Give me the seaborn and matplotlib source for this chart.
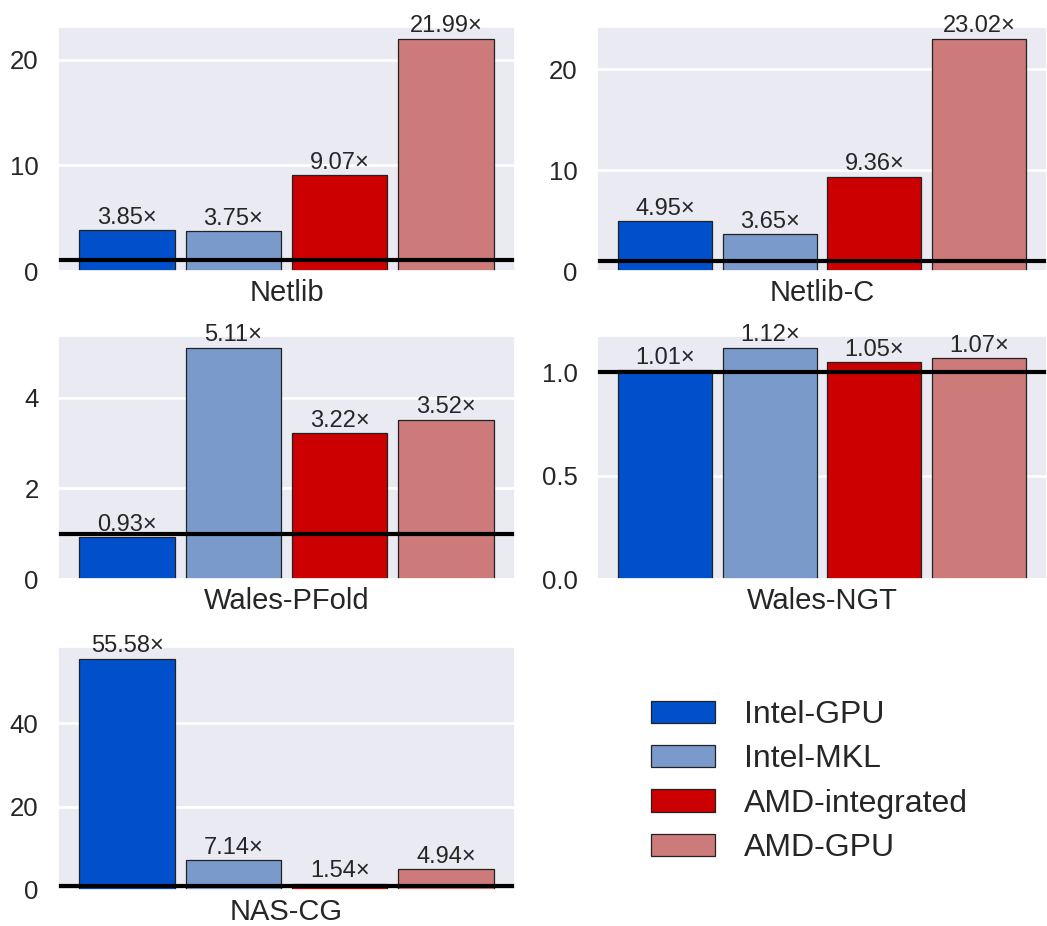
import matplotlib
matplotlib.use("Agg")
import matplotlib.pyplot as plt
from matplotlib.patches import Patch
import seaborn as sns

# --- Dados ---
benchmarks = ["Netlib", "Netlib-C", "Wales-PFold", "Wales-NGT", "NAS-CG"]
systems = ["Intel-GPU", "Intel-MKL", "AMD-integrated", "AMD-GPU"]
intel_gpu = [3.85, 4.95, 0.93, 1.01, 55.58]
intel_mkl = [3.75, 3.65, 5.11, 1.12, 7.14]
amd_integrated = [9.07, 9.36, 3.22, 1.05, 1.54]
amd_gpu = [21.99, 23.02, 3.52, 1.07, 4.94]
yticks = [[0, 10, 20], [0, 10, 20], [0, 2, 4], [0.0, 0.5, 1.0], [0, 20, 40]]
ytick_labels = [["0", "10", "20"], ["0", "10", "20"], ["0", "2", "4"],
                ["0.0", "0.5", "1.0"], ["0", "20", "40"]]
colors = ["#0050CC", "#7A9ACC", "#CC0000", "#CC7A7A"]

# --- Estilo ---
sns.set_theme(style="darkgrid")
plt.rcParams["font.family"] = ["Liberation Sans", "DejaVu Sans"]
plt.rcParams["ytick.major.size"] = 0
plt.rcParams["xtick.major.size"] = 0
plt.rcParams["grid.linewidth"] = 2.0

fig = plt.figure(figsize=(10.47, 9.26), dpi=100)

# posições dos eixos (esquerda, baixo, largura, altura)
positions = [
    (0.0554, 0.7073, 0.4365, 0.2635),
    (0.5702, 0.7073, 0.4298, 0.2635),
    (0.0554, 0.3747, 0.4365, 0.2624),
    (0.5702, 0.3747, 0.4298, 0.2624),
    (0.0554, 0.0389, 0.4365, 0.2624),
]

for i, name in enumerate(benchmarks):
    ax = fig.add_axes(positions[i])
    vals = [intel_gpu[i], intel_mkl[i], amd_integrated[i], amd_gpu[i]]
    sns.barplot(x=systems, y=vals, hue=systems, palette=colors, width=0.9,
                saturation=1, edgecolor="#222222", linewidth=0.9,
                legend=False, ax=ax)
    for cont, v in zip(ax.containers, vals):
        ax.bar_label(cont, labels=[f"{v:.2f}×"], padding=1, fontsize=17,
                     color="#262626")
    ax.axhline(1, color="black", lw=3)
    ax.set_xlim(-0.65, 3.65)
    ax.set_ylim(0, max(vals) * 1.05)
    ax.set_yticks(yticks[i])
    ax.set_yticklabels(ytick_labels[i])
    ax.tick_params(axis="y", labelsize=18.5, pad=14)
    ax.set_xticks([])
    ax.set_xlabel(name, fontsize=21, labelpad=6)
    ax.set_ylabel("")

handles = [Patch(facecolor=c, edgecolor="#222222", linewidth=0.9) for c in colors]
fig.legend(handles, systems, loc="center", bbox_to_anchor=(0.773, 0.156),
           frameon=False, fontsize=23, handlelength=2.0, handleheight=0.7,
           labelspacing=0.45, handletextpad=0.9)

fig.savefig("out.png", dpi=100)
